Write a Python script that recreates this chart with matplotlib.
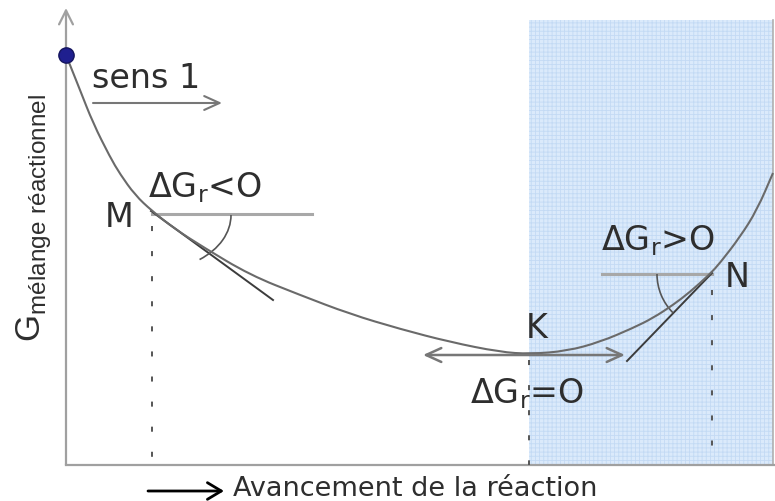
import numpy as np
import matplotlib.pyplot as plt
from matplotlib.patches import Arc, Rectangle, PathPatch
from matplotlib.path import Path

plt.rcParams['font.family'] = ['DejaVu Sans']
plt.rcParams['mathtext.fontset'] = 'dejavusans'
plt.rcParams['hatch.linewidth'] = 0.6

# courbe G = f(avancement) (repere en pixels, y vers le bas)
curve_x = [66, 72, 80, 93, 110, 120, 135, 152, 175, 203, 250, 300, 350, 400,
           450, 500, 530, 567, 600, 633, 653, 673, 690, 710, 720, 740, 757, 773]
curve_y = [55, 70, 90, 123, 157, 174, 195, 211, 229, 247, 275, 295, 314, 329,
           342, 352, 354, 351, 342, 328, 318, 305, 292, 274, 263, 237, 210, 173]

# points remarquables
pt_names = ['M', 'K', 'N']
pt_x = [152, 529, 712]
pt_y = [212, 355, 274]

# tangentes et horizontales
tan_M = ([151, 273], [211, 300])
tan_N = ([712, 627], [273, 361])
horiz_M = ([152, 312], [214, 214])
horiz_N = ([602, 712], [274, 274])

x0, y0 = 66, 465

fig = plt.figure(figsize=(7.75, 5.01), dpi=100)
ax = fig.add_axes([0, 0, 1, 1])
ax.set_xlim(0, 775)
ax.set_ylim(501, 0)
ax.axis('off')

# zone bleue
ax.add_patch(Rectangle((529, 20), 244, y0 - 20, facecolor='#dbeafb',
                       edgecolor='#c3daf4', hatch='++++', lw=0, zorder=0))
ax.plot([773, 773], [20, y0], color='#b0b0b0', lw=1.2, zorder=1)

# axes
ax.plot([x0, 775], [y0, y0], color='#a0a0a0', lw=1.6, zorder=2)
ax.annotate('', xy=(x0, 8), xytext=(x0, y0),
            arrowprops=dict(arrowstyle='->,head_length=0.5,head_width=0.25',
                            color='#a0a0a0', lw=1.6, shrinkA=0, shrinkB=0,
                            mutation_scale=20), zorder=2)

# pointilles verticaux
dash_top = [226, 360, 290]
for px, top in zip(pt_x, dash_top):
    ax.plot([px, px], [top, y0], color='#555555', lw=1.4,
            dashes=(2.6, 10.3), zorder=3)

# lignes horizontales et tangentes
ax.plot(*horiz_M, color='#a8a8a8', lw=2.2, zorder=3)
ax.plot(*horiz_N, color='#a8a8a8', lw=2.2, zorder=3)
ax.plot(*tan_M, color='#3c3c3c', lw=1.4, zorder=4)
ax.plot(*tan_N, color='#3c3c3c', lw=1.4, zorder=4)

# angles
ax.add_patch(Arc((155, 215), 152, 110, theta1=0, theta2=45,
                 color='#555555', lw=1.2, zorder=4))
ax.add_patch(Arc((712, 274), 110, 110, theta1=135, theta2=180,
                 color='#555555', lw=1.2, zorder=4))

# courbe lissee (b-spline quadratique sur les points lus)
pts = np.column_stack([curve_x, curve_y]).astype(float)
verts = [pts[0]]
codes = [Path.MOVETO]
for i in range(1, len(pts) - 1):
    verts += [pts[i], (pts[i] + pts[i + 1]) / 2]
    codes += [Path.CURVE3, Path.CURVE3]
verts.append(pts[-1])
codes.append(Path.LINETO)
ax.add_patch(PathPatch(Path(verts, codes), fill=False, edgecolor='#6a6a6a',
                       lw=1.5, zorder=5))
ax.plot(curve_x[0], curve_y[0], 'o', ms=11, color='#1f1f8f',
        mec='#14145e', zorder=6)

# fleches
ax.annotate('', xy=(222, 103), xytext=(93, 103),
            arrowprops=dict(arrowstyle='->,head_length=0.55,head_width=0.25',
                            color='#777777', lw=1.5, shrinkA=0, shrinkB=0,
                            mutation_scale=20), zorder=6)
ax.annotate('', xy=(625, 355), xytext=(423, 355),
            arrowprops=dict(arrowstyle='<->,head_length=0.55,head_width=0.25',
                            color='#777777', lw=1.8, shrinkA=0, shrinkB=0,
                            mutation_scale=20), zorder=6)
ax.annotate('', xy=(224, 491), xytext=(148, 491),
            arrowprops=dict(arrowstyle='->,head_length=0.5,head_width=0.3',
                            color='black', lw=2, shrinkA=0, shrinkB=0,
                            mutation_scale=20), zorder=6)

# textes
tc = '#2e2e2e'
fs = 24
ax.text(92, 88, 'sens 1', fontsize=fs, color=tc, va='baseline')
ax.text(105, 227, pt_names[0], fontsize=fs, color=tc, va='baseline')
ax.text(526, 338, pt_names[1], fontsize=fs, color=tc, va='baseline')
ax.text(725, 287, pt_names[2], fontsize=fs, color=tc, va='baseline')
ax.text(148, 197, r'ΔG$_\mathregular{r}$<O', fontsize=fs, color=tc, va='baseline')
ax.text(470, 403, r'ΔG$_\mathregular{r}$=O', fontsize=fs, color=tc, va='baseline')
ax.text(601, 250, r'ΔG$_\mathregular{r}$>O', fontsize=fs, color=tc, va='baseline')

ax.text(34, 218, r'G$_\mathregular{mélange\ réactionnel}$', fontsize=25,
        color=tc, rotation=90, ha='center', va='center',
        family=['Liberation Sans', 'DejaVu Sans'])
ax.text(233, 496, 'Avancement de la réaction', fontsize=19.5, color=tc,
        va='baseline')

fig.savefig('out.png', dpi=100)
